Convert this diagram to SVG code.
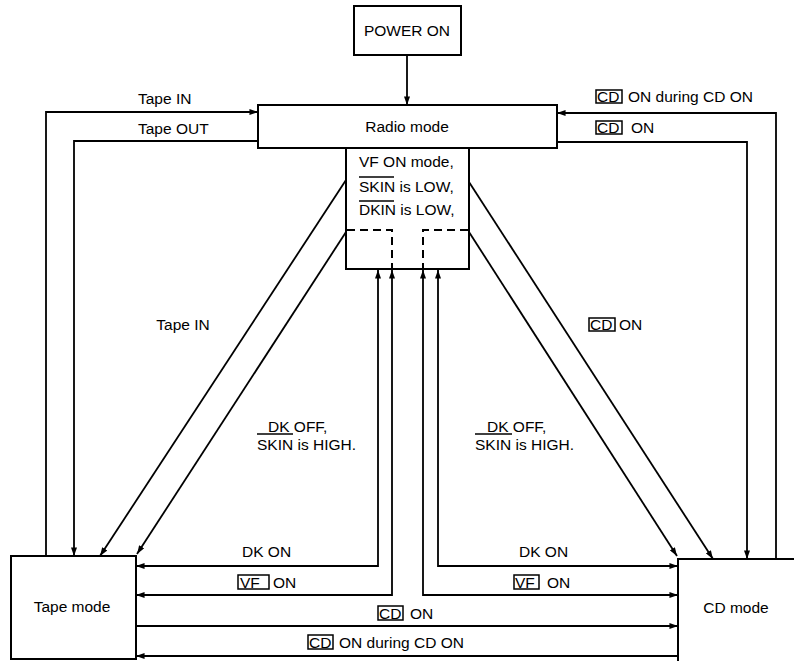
<svg xmlns="http://www.w3.org/2000/svg" width="794" height="661" viewBox="0 0 794 661">
<style>
  text { font-family: "Liberation Sans", Arial, sans-serif; font-size: 15.5px; fill: #000; }
  .c { text-anchor: middle; }
  .box { fill: #fff; stroke: #000; stroke-width: 2; }
  .ln { fill: none; stroke: #000; stroke-width: 1.8; }
  .dash { fill: none; stroke: #000; stroke-width: 2; stroke-dasharray: 8 5; }
  .kbox { fill: none; stroke: #000; stroke-width: 1.5; }
  .ov { stroke: #000; stroke-width: 1.3; }
</style>
<defs>
  <marker id="ah" viewBox="0 0 10 7" refX="10" refY="3.5" markerWidth="9" markerHeight="6" markerUnits="userSpaceOnUse" orient="auto-start-reverse">
    <path d="M0,0 L10,3.5 L0,7 z" fill="#000"/>
  </marker>
</defs>
<rect width="794" height="661" fill="#fff"/>

<g id="connectors">
  <!-- power on to radio -->
  <path class="ln" d="M407,55 V105" marker-end="url(#ah)"/>
  <!-- Tape IN top -->
  <path class="ln" d="M46,556 V112 H258" marker-end="url(#ah)"/>
  <!-- Tape OUT top -->
  <path class="ln" d="M258,141 H74 V556" marker-end="url(#ah)"/>
  <!-- CD ON during CD ON top -->
  <path class="ln" d="M776,559 V113 H557" marker-end="url(#ah)"/>
  <!-- CD ON top -->
  <path class="ln" d="M557,142 H747 V559" marker-end="url(#ah)"/>
  <!-- diagonals -->
  <path class="ln" d="M346,180 L100,556" marker-end="url(#ah)"/>
  <path class="ln" d="M346,232 L137,554" marker-end="url(#ah)"/>
  <path class="ln" d="M469,182 L713,559" marker-end="url(#ah)"/>
  <path class="ln" d="M469,232 L677,556" marker-end="url(#ah)"/>
  <!-- verticals from VF box -->
  <path class="ln" d="M378,270 V566 H136" marker-start="url(#ah)" marker-end="url(#ah)"/>
  <path class="ln" d="M392,270 V595 H136" marker-start="url(#ah)" marker-end="url(#ah)"/>
  <path class="ln" d="M423,270 V595 H678" marker-start="url(#ah)" marker-end="url(#ah)"/>
  <path class="ln" d="M438,270 V566 H678" marker-start="url(#ah)" marker-end="url(#ah)"/>
  <!-- bottom horizontals -->
  <path class="ln" d="M136,626 H678" marker-end="url(#ah)"/>
  <path class="ln" d="M678,656 H136" marker-end="url(#ah)"/>
</g>

<g id="power-on">
  <rect class="box" x="354" y="6" width="107" height="49"/>
  <text class="c" x="407" y="36">POWER ON</text>
</g>

<g id="radio-mode">
  <rect class="box" x="258" y="105" width="299" height="43"/>
  <text class="c" x="407" y="132">Radio mode</text>
</g>

<g id="vf-on-mode">
  <rect class="box" x="346" y="148" width="123" height="121"/>
  <text x="359" y="167">VF ON mode,</text>
  <text x="359" y="192">SKIN is LOW,</text>
  <text x="359" y="215">DKIN is LOW,</text>
  <line class="ov" x1="359" y1="177" x2="394" y2="177"/>
  <line class="ov" x1="359" y1="201" x2="394" y2="201"/>
  <path class="dash" d="M347,230 H392 V269"/>
  <path class="dash" d="M468,230 H423 V269"/>
</g>

<g id="tape-mode">
  <rect class="box" x="11" y="556" width="125" height="103"/>
  <text class="c" x="72" y="612">Tape mode</text>
</g>

<g id="cd-mode">
  <path class="box" d="M678,663 V559 H796"/>
  <text class="c" x="736" y="613">CD mode</text>
</g>

<g id="labels">
  <text x="138" y="104">Tape IN</text>
  <text x="138" y="134">Tape OUT</text>
  <rect class="kbox" x="596" y="90" width="26" height="13"/>
  <text x="597" y="102">CD</text>
  <text x="628" y="102">ON during CD ON</text>
  <rect class="kbox" x="596" y="121" width="26" height="13"/>
  <text x="597" y="133">CD</text>
  <text x="631" y="133">ON</text>

  <text class="c" x="183" y="330">Tape IN</text>
  <rect class="kbox" x="589" y="318" width="26" height="13"/>
  <text x="590" y="330">CD</text>
  <text x="619" y="330">ON</text>

  <text x="268" y="432">DK OFF,</text>
  <line class="ov" x1="257" y1="434" x2="293" y2="434"/>
  <text x="257" y="450">SKIN is HIGH.</text>
  <text x="487" y="432">DK OFF,</text>
  <line class="ov" x1="475" y1="434" x2="512" y2="434"/>
  <text x="475" y="450">SKIN is HIGH.</text>

  <text x="242" y="557">DK ON</text>
  <text x="519" y="557">DK ON</text>

  <rect class="kbox" x="238" y="575" width="31" height="14"/>
  <text x="240" y="588">VF</text>
  <text x="273" y="588">ON</text>
  <rect class="kbox" x="514" y="575" width="25" height="14"/>
  <text x="515" y="588">VF</text>
  <text x="547" y="588">ON</text>

  <rect class="kbox" x="378" y="606" width="25" height="14"/>
  <text x="379" y="619">CD</text>
  <text x="410" y="619">ON</text>

  <rect class="kbox" x="308" y="635" width="25" height="14"/>
  <text x="309" y="648">CD</text>
  <text x="339" y="648">ON during CD ON</text>
</g>
</svg>
